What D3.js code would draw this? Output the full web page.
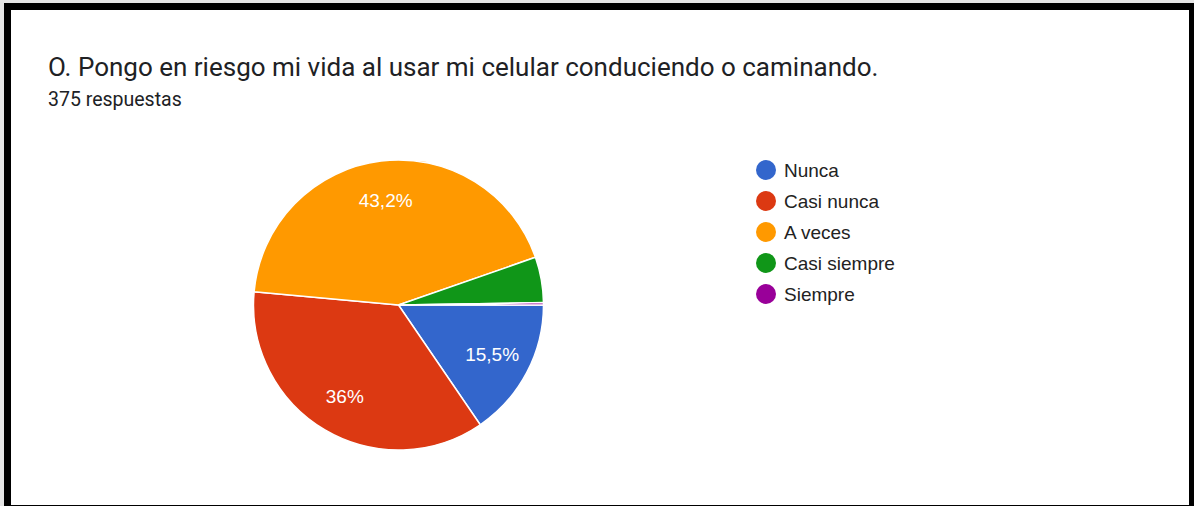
<!DOCTYPE html>
<html>
<head>
<meta charset="utf-8">
<script src="https://cdn.jsdelivr.net/npm/d3@7"></script>
<style>
  html, body { margin: 0; padding: 0; background: #fff; }
  svg { display: block; font-family: Roboto, Arial, sans-serif; }
</style>
</head>
<body>
<div id="chart"></div>
<script>
var w = 1194, h = 506;

// chart data (counts out of 375 responses)
var categories = ['Nunca', 'Casi nunca', 'A veces', 'Casi siempre', 'Siempre'];
var counts = [58, 135, 162, 19, 1];
var labels = ['15,5%', '36%', '43,2%', '', ''];
var colors = ['#3366cc', '#dc3912', '#ff9900', '#109618', '#990099'];
var title = 'O. Pongo en riesgo mi vida al usar mi celular conduciendo o caminando.';
var subtitle = '375 respuestas';

function init() {
  var svg = d3.select('#chart')
    .append('svg')
    .attr('width', w)
    .attr('height', h);

  // frame
  svg.append('rect').attr('x', 0).attr('y', 0).attr('width', w).attr('height', h).attr('fill', '#e6e6e6');
  svg.append('rect').attr('x', 4).attr('y', 3).attr('width', w - 4).attr('height', h - 3).attr('fill', '#000');
  svg.append('rect').attr('x', 11).attr('y', 10).attr('width', 1178).attr('height', 495).attr('fill', '#fff');

  svg.append('text')
    .attr('x', 48).attr('y', 76)
    .attr('fill', '#202124')
    .style('font-size', '26px')
    .text(title);

  svg.append('text')
    .attr('x', 48).attr('y', 106)
    .attr('fill', '#202124')
    .style('font-size', '19.5px')
    .text(subtitle);

  //pie
  var cx = 398.5, cy = 305, radius = 145;
  var pie = d3.pie()
    .sort(null)
    .startAngle(Math.PI / 2)
    .endAngle(Math.PI / 2 + 2 * Math.PI);
  var arc = d3.arc().innerRadius(0).outerRadius(radius);
  var labelArc = d3.arc().innerRadius(radius * 0.73).outerRadius(radius * 0.73);

  var g = svg.append('g').attr('transform', 'translate(' + cx + ',' + cy + ')');
  var arcs = g.selectAll('g.arc')
    .data(pie(counts))
    .enter()
    .append('g')
    .attr('class', 'arc');

  arcs.append('path')
    .attr('d', arc)
    .attr('fill', function (d, i) { return colors[i]; })
    .attr('stroke', '#fff')
    .attr('stroke-width', 1.5);

  arcs.append('text')
    .attr('transform', function (d) { return 'translate(' + labelArc.centroid(d) + ')'; })
    .attr('text-anchor', 'middle')
    .attr('dy', '0.35em')
    .attr('fill', '#fff')
    .style('font-family', '"Liberation Sans", Arial, sans-serif')
    .style('font-size', '19px')
    .text(function (d, i) { return labels[i]; });

  //legend
  var legend = svg.selectAll('g.legend')
    .data(categories)
    .enter()
    .append('g')
    .attr('class', 'legend')
    .attr('transform', function (d, i) { return 'translate(766,' + (170 + i * 31) + ')'; });

  legend.append('circle')
    .attr('r', 10)
    .attr('fill', function (d, i) { return colors[i]; });

  legend.append('text')
    .attr('x', 18)
    .attr('dy', '0.35em')
    .attr('fill', '#222')
    .style('font-family', '"Liberation Sans", Arial, sans-serif')
    .style('font-size', '19px')
    .text(function (d) { return d; });
}

window.onload = init;
</script>
</body>
</html>
